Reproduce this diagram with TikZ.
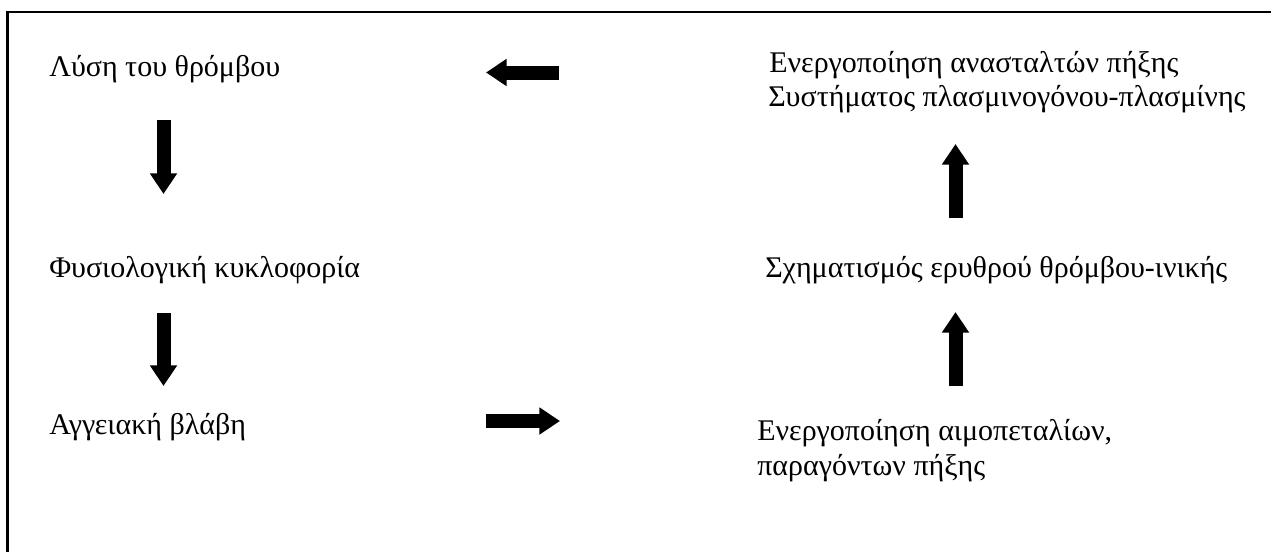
\documentclass[tikz,border=0pt]{standalone}
\usepackage{fontspec}
\setmainfont{Liberation Serif}
\usetikzlibrary{arrows.meta}

\tikzset{
  steptext/.style={anchor=base west, inner sep=0pt, font=\fontsize{22.5}{27}\selectfont},
  blockarrow/.style={line width=10.5pt, -{Triangle[length=15.5pt 0 0, width=19.5pt 0 0]}},
}

\begin{document}
\begin{tikzpicture}[x=0.75pt,y=0.75pt,yscale=-1,xscale=1]
    \clip (0,0) rectangle (1271,551);
    \useasboundingbox (0,0) rectangle (1271,551);

    %Shape: Frame
    \draw [line width=1.8pt] (7.5,12) rectangle (1290,570);

    % Text Node
    \node [steptext] (lysi) at (49,76) {Λύση του θρόμβου};
    % Text Node
    \node [steptext] (fysio) at (49,277) {Φυσιολογική κυκλοφορία};
    % Text Node
    \node [steptext] (vlavi) at (49,434) {Αγγειακή βλάβη};
    % Text Node
    \node [steptext] (anastol) at (769,72) {Ενεργοποίηση ανασταλτών πήξης};
    % Text Node
    \node [steptext] (plasmin) at (768,106) {Συστήματος πλασμινογόνου-πλασμίνης};
    % Text Node
    \node [steptext] (thrombos) at (765,277) {Σχηματισμός ερυθρού θρόμβου-ινικής};
    % Text Node
    \node [steptext] (aimopet) at (757,440) {Ενεργοποίηση αιμοπεταλίων,};
    % Text Node
    \node [steptext] (paragon) at (757,475) {παραγόντων πήξης};

    %Arrow ends
    \coordinate (topR) at (559,72.5);
    \coordinate (topL) at (486,72.5);
    \coordinate (dnA1) at (163.5,120);
    \coordinate (dnA2) at (163.5,194);
    \coordinate (dnB1) at (163.5,313);
    \coordinate (dnB2) at (163.5,386);
    \coordinate (botL) at (486,421);
    \coordinate (botR) at (560,421);
    \coordinate (upA1) at (955.5,218);
    \coordinate (upA2) at (955.5,144);
    \coordinate (upB1) at (955.5,386);
    \coordinate (upB2) at (955.5,312);

    %Block Arrows
    \draw [blockarrow] (topR) -- (topL);
    \draw [blockarrow] (dnA1) -- (dnA2);
    \draw [blockarrow] (dnB1) -- (dnB2);
    \draw [blockarrow] (botL) -- (botR);
    \draw [blockarrow] (upA1) -- (upA2);
    \draw [blockarrow] (upB1) -- (upB2);

\end{tikzpicture}
\end{document}
